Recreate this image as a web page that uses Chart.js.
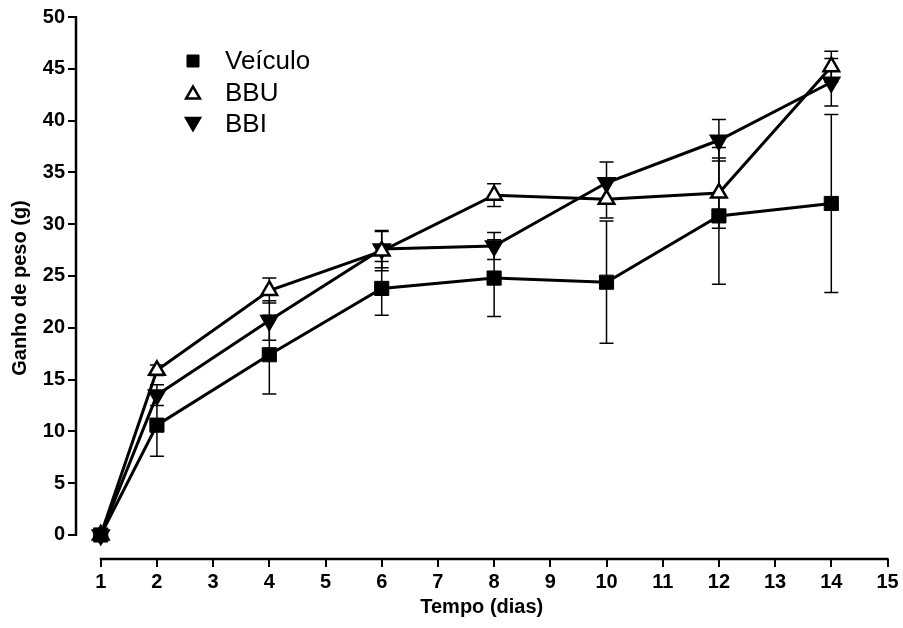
<!DOCTYPE html>
<html>
<head>
<meta charset="utf-8">
<script src="https://cdn.jsdelivr.net/npm/chart.js"></script>
<style>
  body { margin: 0; background: #fff; }
  canvas { display: block; }
</style>
</head>
<body>
<canvas id="chart" width="903" height="628"></canvas>
<script>
// data
const days = [1, 2, 4, 6, 8, 10, 12, 14];
const veiculo = [0, 10.6, 17.4, 23.8, 24.8, 24.4, 30.8, 32.0];
const veiculoErr = [0, 3.0, 3.8, 2.6, 3.7, 5.9, 6.6, 8.6];
const bbu = [0, 15.9, 23.6, 27.4, 32.8, 32.4, 33.0, 45.2];
const bbuErr = [0, 0.5, 1.2, 1.9, 1.1, 1.8, 3.4, 1.5];
const bbi = [0, 13.5, 20.7, 27.6, 27.9, 34.0, 38.1, 43.7];
const bbiErr = [0, 1.0, 1.9, 1.8, 1.3, 2.0, 2.0, 2.3];

const xTicks = [1, 2, 3, 4, 5, 6, 7, 8, 9, 10, 11, 12, 13, 14, 15];
const yTicks = [0, 5, 10, 15, 20, 25, 30, 35, 40, 45, 50];
const seriesNames = ['Veículo', 'BBU', 'BBI'];

const fontFamily = '"Liberation Sans", Arial, Helvetica, sans-serif';

function toPoints(vals){
    return vals.map((v, i) => ({x: days[i], y: v}));
}

//error bars, drawn under the markers
const errorBars = {
    id: 'errorBars',
    beforeDatasetsDraw(chart){
        const ctx = chart.ctx;
        const y = chart.scales.y;
        ctx.save();
        ctx.strokeStyle = '#000';
        ctx.lineWidth = 1.5;
        chart.data.datasets.forEach((ds, i) => {
            const meta = chart.getDatasetMeta(i);
            ds.errors.forEach((e, j) => {
                if (!e) return;
                const px = meta.data[j].x;
                const top = y.getPixelForValue(ds.data[j].y + e);
                const bot = y.getPixelForValue(ds.data[j].y - e);
                ctx.beginPath();
                ctx.moveTo(px, top); ctx.lineTo(px, bot);
                ctx.moveTo(px - 7, top); ctx.lineTo(px + 7, top);
                ctx.moveTo(px - 7, bot); ctx.lineTo(px + 7, bot);
                ctx.stroke();
            });
        });
        ctx.restore();
    }
};

//axis lines only from first to last tick (prism style)
const axisLines = {
    id: 'axisLines',
    afterDraw(chart){
        const ctx = chart.ctx;
        const xs = chart.scales.x, ys = chart.scales.y;
        ctx.save();
        ctx.strokeStyle = '#000';
        ctx.lineWidth = 2.5;
        ctx.beginPath();
        ctx.moveTo(xs.getPixelForValue(xTicks[0]) - 1, chart.chartArea.bottom);
        ctx.lineTo(xs.getPixelForValue(xTicks[xTicks.length - 1]) + 1, chart.chartArea.bottom);
        ctx.moveTo(chart.chartArea.left, ys.getPixelForValue(yTicks[0]) + 1);
        ctx.lineTo(chart.chartArea.left, ys.getPixelForValue(yTicks[yTicks.length - 1]) - 1);
        ctx.stroke();
        ctx.restore();
    }
};

//legend inside plot, upper left
const insideLegend = {
    id: 'insideLegend',
    afterDraw(chart){
        const ctx = chart.ctx;
        ctx.save();
        ctx.font = '26px ' + fontFamily;
        ctx.fillStyle = '#000';
        ctx.textBaseline = 'middle';
        chart.data.datasets.forEach((ds, i) => {
            const ly = 61 + i * 31.5;
            ctx.fillStyle = ds.pointBackgroundColor;
            ctx.strokeStyle = '#000';
            ctx.lineWidth = ds.pointBorderWidth;
            Chart.helpers.drawPoint(ctx, {
                pointStyle: ds.pointStyle,
                rotation: ds.pointRotation,
                radius: ds.pointStyle === 'rect' ? 8.5 : 8,
                borderWidth: ds.pointBorderWidth
            }, 193, ly + (ds.pointStyle === 'triangle' ? (ds.pointRotation ? -2 : 2) : 0));
            ctx.fillStyle = '#000';
            ctx.fillText(ds.label, 225, ly + 1);
        });
        ctx.restore();
    }
};

function series(label, vals, errs, style, rotation, fill){
    return {
        label: label,
        data: toPoints(vals),
        errors: errs,
        borderColor: '#000',
        borderWidth: 3,
        tension: 0,
        pointStyle: style,
        pointRotation: rotation,
        pointRadius: style === 'rect' ? 10 : 9,
        pointBackgroundColor: fill,
        pointBorderColor: '#000',
        pointBorderWidth: style === 'rect' ? 1 : 2.5,
        fill: false
    };
}

const ctx = document.getElementById('chart');

new Chart(ctx, {
type: 'line',
data: {
    datasets: [
        series(seriesNames[0], veiculo, veiculoErr, 'rect', 0, '#000'),
        series(seriesNames[1], bbu, bbuErr, 'triangle', 0, '#fff'),
        series(seriesNames[2], bbi, bbiErr, 'triangle', 180, '#000')
    ]
},
options: {
    responsive: false,
    animation: false,
    layout: { padding: { left: 0, top: 17, right: 15.5, bottom: 0 } },
    plugins: {
        legend: { display: false },
        tooltip: { enabled: false }
    },
    scales: {
        x: {
            type: 'linear',
            min: 0.56,
            max: 15,
            afterBuildTicks: (s) => { s.ticks = xTicks.map(v => ({value: v})); },
            afterFit: (s) => { s.height = 69; },
            grid: { drawOnChartArea: false, drawTicks: true, tickLength: 8, color: '#000', lineWidth: 2 },
            border: { display: false },
            ticks: { color: '#000', autoSkip: false, maxRotation: 0, padding: 3,
                font: { family: fontFamily, size: 20, weight: 'bold' } },
            title: { display: true, text: 'Tempo (dias)', color: '#000',
                font: { family: fontFamily, size: 20, weight: 'bold' },
                padding: { top: 0, bottom: 9 } }
        },
        y: {
            min: -2.32,
            max: 50,
            afterBuildTicks: (s) => { s.ticks = yTicks.map(v => ({value: v})); },
            afterFit: (s) => { s.width = 76; },
            grid: { drawOnChartArea: false, drawTicks: true, tickLength: 8, color: '#000', lineWidth: 2 },
            border: { display: false },
            ticks: { color: '#000', padding: 3,
                font: { family: fontFamily, size: 20, weight: 'bold' } },
            title: { display: true, text: 'Ganho de peso (g)', color: '#000',
                font: { family: fontFamily, size: 20, weight: 'bold' },
                padding: { top: 8, bottom: 0 } }
        }
    }
},
plugins: [errorBars, axisLines, insideLegend]
});
</script>
</body>
</html>
